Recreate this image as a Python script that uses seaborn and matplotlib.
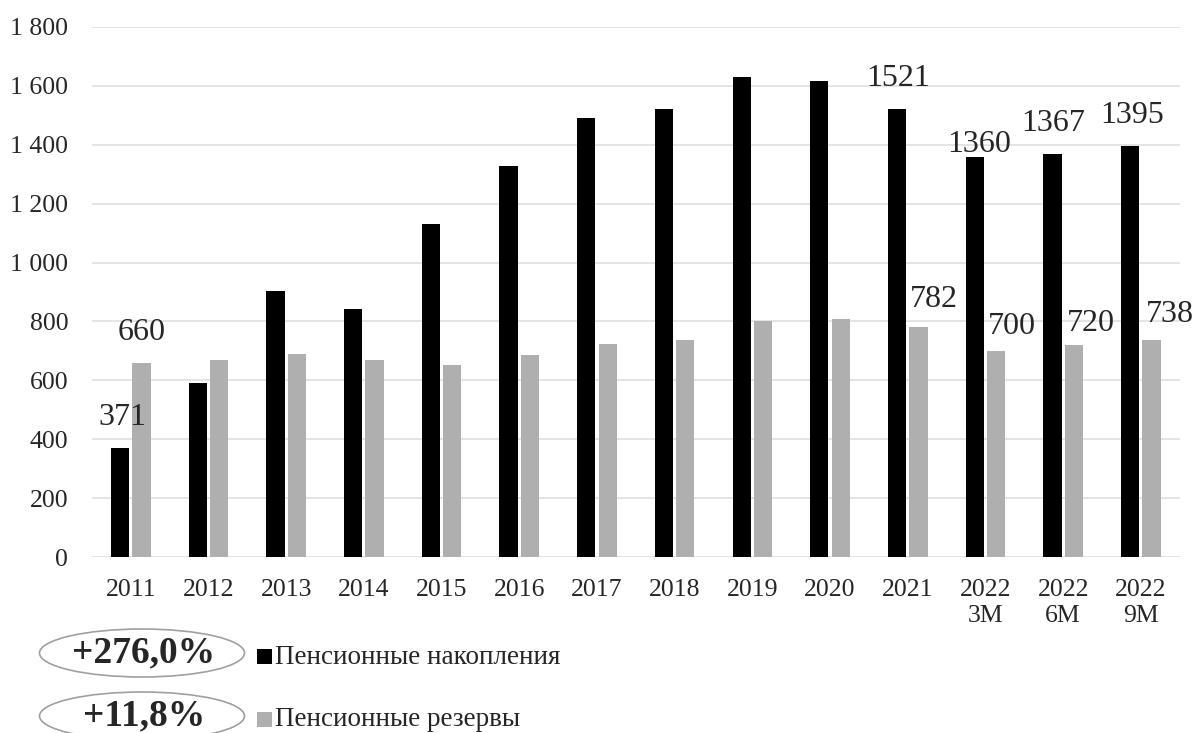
import pandas as pd
import seaborn as sns
import matplotlib.pyplot as plt
from matplotlib.patches import Ellipse, Rectangle
from matplotlib.ticker import FuncFormatter

# Data
categories = ['2011', '2012', '2013', '2014', '2015', '2016', '2017', '2018',
              '2019', '2020', '2021', '2022\n3M', '2022\n6M', '2022\n9M']
savings = [371, 592, 903, 843, 1131, 1328, 1492, 1520, 1629, 1618, 1521, 1360, 1367, 1395]
reserves = [660, 668, 688, 669, 652, 685, 722, 737, 803, 808, 782, 700, 720, 738]
series_names = ['Пенсионные накопления', 'Пенсионные резервы']
growth_labels = ['+276,0%', '+11,8%']

# bars that get a value label: (series index, category index, dx px, dy px)
labelled = [(0, 0, 2, 16), (1, 0, 0, 16), (0, 10, 1, 16), (1, 10, 15, 13),
            (0, 11, 4, -2), (1, 11, 16, 10), (0, 12, 1, 16), (1, 12, 17, 7),
            (0, 13, 2, 16), (1, 13, 18, 11)]

df = pd.DataFrame({
    'cat': categories * 2,
    'series': [series_names[0]] * len(categories) + [series_names[1]] * len(categories),
    'value': savings + reserves,
})

sns.set_style('white')
plt.rcParams['font.family'] = ['Liberation Serif', 'DejaVu Serif']

fig = plt.figure(figsize=(11.94, 7.33), dpi=100)
ax = fig.add_axes([0.077, 0.2401, 0.911, 0.7231])

colors = {series_names[0]: '#000000', series_names[1]: '#afafaf'}
sns.barplot(data=df, x='cat', y='value', hue='series', hue_order=series_names,
            palette=colors, width=0.55, gap=0.15, legend=False, ax=ax,
            saturation=1, edgecolor='none')

ax.set_ylim(0, 1800)
ax.set_xlim(-0.5, len(categories) - 0.5)
ax.set_yticks(range(0, 1801, 200))
ax.yaxis.set_major_formatter(FuncFormatter(lambda v, p: f'{int(v):,}'.replace(',', ' ')))
ax.grid(axis='y', color='#dcdcdc', linewidth=1.1)
ax.set_axisbelow(True)
for s in ax.spines.values():
    s.set_visible(False)
ax.tick_params(axis='both', length=0, labelsize=18.5)
ax.tick_params(axis='y', pad=17)
ax.tick_params(axis='x', pad=16)
for t in ax.get_xticklabels():
    t.set_linespacing(1.2)
ax.set_xlabel('')
ax.set_ylabel('')

vals = [savings, reserves]
for si, ci, dx, dy in labelled:
    bar = ax.containers[si][ci]
    xc = bar.get_x() + bar.get_width() / 2
    ax.annotate(str(vals[si][ci]), xy=(xc, bar.get_height()), xytext=(dx, dy),
                textcoords='offset pixels', ha='center', va='bottom', fontsize=23)

# custom legend with growth ellipses
W, H = 1194, 733
rows = [653, 716]
for i, yc in enumerate(rows):
    fy = 1 - yc / H
    e = Ellipse((142 / W, fy), 205 / W, 48 / H, transform=fig.transFigure,
                facecolor='white', edgecolor='#a0a0a0', linewidth=1.2)
    fig.add_artist(e)
    fig.text(144 / W, fy, growth_labels[i], ha='center', va='center',
             fontsize=27, fontweight='bold')
    sq = Rectangle((257 / W, fy - 11 / H), 15 / W, 15 / H, transform=fig.transFigure,
                   facecolor=colors[series_names[i]], edgecolor='none')
    fig.add_artist(sq)
    fig.text(275 / W, fy - 4 / H, series_names[i], ha='left', va='center', fontsize=19.5)

plt.savefig('out.png', dpi=100)
